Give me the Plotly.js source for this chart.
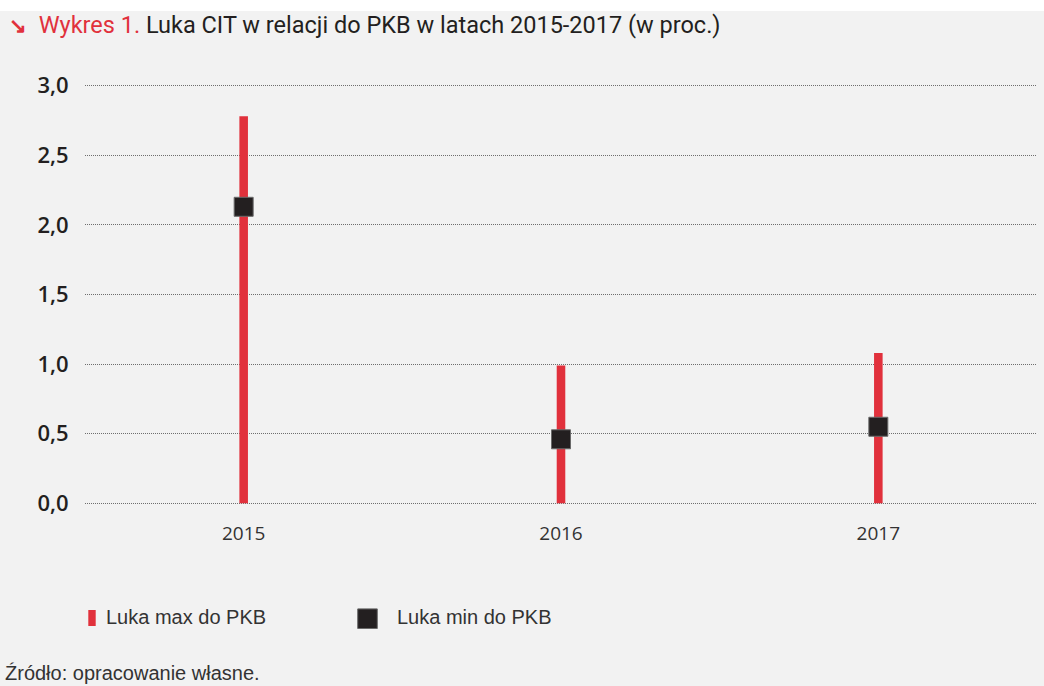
<!DOCTYPE html>
<html>
<head>
<meta charset="utf-8">
<script src="https://cdn.plot.ly/plotly-3.0.1.min.js"></script>
<style>
html,body{margin:0;padding:0;background:#ffffff;width:1044px;height:686px;overflow:hidden;}
#chart{position:absolute;left:0;top:11px;width:1044px;height:675px;background:#f2f2f2;}
</style>
</head>
<body>
<div id="chart"></div>
<script>
// Data
const years = ['2015', '2016', '2017'];
const lukaMax = [2.78, 0.99, 1.08];
const lukaMin = [2.13, 0.46, 0.55];
const yTicks = [0, 0.5, 1.0, 1.5, 2.0, 2.5, 3.0];

const RED = '#e1313c';
const DARK = '#231f20';

// plot area geometry helpers (paper coords)
const L = 85, R = 1037, T = 73, B = 494; // within the div
const px = x => (x - L) / (R - L);
const py = y => (B - (y - 11)) / (B - T); // y given in page pixels

const traces = [
  {
    type: 'bar',
    name: 'Luka max do PKB',
    x: years,
    y: lukaMax,
    width: 0.027,
    marker: {color: RED},
    hoverinfo: 'y',
    showlegend: false
  },
  {
    type: 'scatter',
    mode: 'markers',
    name: 'Luka min do PKB',
    x: years,
    y: lukaMin,
    marker: {symbol: 'square', size: 19, color: DARK, line: {color: '#6a6a6a', width: 1}},
    hoverinfo: 'y',
    showlegend: false
  }
];

const layout = {
  width: 1044,
  height: 675,
  paper_bgcolor: '#f2f2f2',
  plot_bgcolor: '#f2f2f2',
  separators: ',.',
  margin: {l: L, r: 1044 - R, t: T, b: 675 - B, pad: 0},
  showlegend: false,
  title: {
    text: '<span style="color:' + RED + '"><span style="font-size:21px"><b>↘</b></span>  Wykres 1.</span> Luka CIT w relacji do PKB w latach 2015-2017 (w proc.)',
    font: {family: 'Roboto, "Noto Sans", sans-serif', size: 23.5, color: DARK},
    xref: 'container', yref: 'container',
    x: 9 / 1044, xanchor: 'left',
    y: 1 - 14 / 675, yanchor: 'middle'
  },
  xaxis: {
    type: 'category',
    range: [-0.5, 2.5],
    showgrid: false,
    zeroline: false,
    showline: false,
    ticks: 'outside',
    ticklen: 11,
    tickcolor: 'rgba(0,0,0,0)',
    tickfont: {family: '"Open Sans", sans-serif', size: 19, color: '#333333'},
    fixedrange: true
  },
  yaxis: {
    range: [-0.012, 3.012],
    tickvals: yTicks,
    tickformat: '.1f',
    showgrid: true,
    gridcolor: '#6e6e6e',
    gridwidth: 1,
    griddash: '1px,1px',
    zeroline: false,
    showline: false,
    ticks: 'outside',
    ticklen: 11,
    tickcolor: 'rgba(0,0,0,0)',
    tickfont: {family: '"Open Sans", sans-serif', size: 22, color: DARK, weight: 600},
    fixedrange: true
  },
  shapes: [
    {type: 'rect', xref: 'paper', yref: 'paper', x0: px(88.3), x1: px(95.7), y0: py(626), y1: py(610),
     fillcolor: RED, line: {width: 0}},
    {type: 'rect', xref: 'paper', yref: 'paper', x0: px(357.7), x1: px(377.3), y0: py(628.5), y1: py(608.9),
     fillcolor: DARK, line: {width: 1, color: '#6a6a6a'}}
  ],
  annotations: [
    {xref: 'paper', yref: 'paper', x: px(104), y: py(617), xanchor: 'left', yanchor: 'middle',
     text: 'Luka max do PKB', showarrow: false,
     font: {family: '"Liberation Sans", Arial, sans-serif', size: 20, color: '#333333'}},
    {xref: 'paper', yref: 'paper', x: px(395), y: py(617), xanchor: 'left', yanchor: 'middle',
     text: 'Luka min do PKB', showarrow: false,
     font: {family: '"Liberation Sans", Arial, sans-serif', size: 20, color: '#333333'}},
    {xref: 'paper', yref: 'paper', x: px(3), y: py(673), xanchor: 'left', yanchor: 'middle',
     text: 'Źródło: opracowanie własne.', showarrow: false,
     font: {family: '"Liberation Sans", Arial, sans-serif', size: 20, color: '#333333'}}
  ]
};

Plotly.newPlot('chart', traces, layout, {displayModeBar: false, staticPlot: true});
</script>
</body>
</html>
